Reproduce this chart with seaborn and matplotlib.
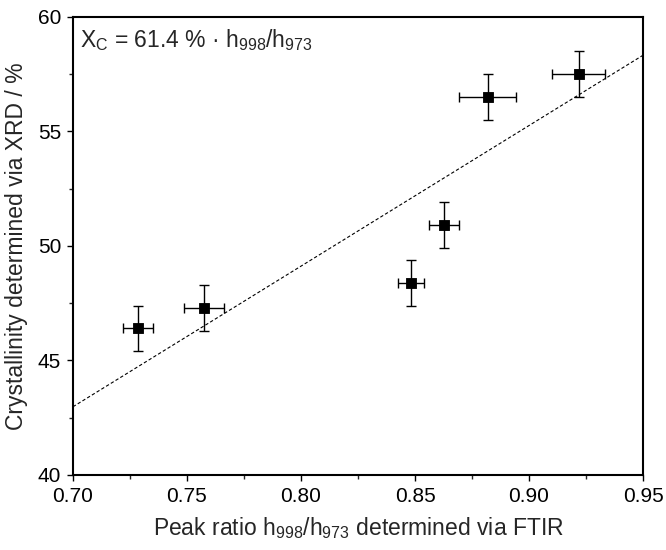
import matplotlib
matplotlib.use("Agg")
import matplotlib.pyplot as plt
import seaborn as sns
import numpy as np
import pandas as pd
from matplotlib.ticker import MultipleLocator

# Data
peak_ratio = [0.7285, 0.7575, 0.8482, 0.8626, 0.8819, 0.9218]
crystallinity = [46.4, 47.3, 48.4, 50.9, 56.5, 57.5]
ratio_err = [0.0067, 0.0086, 0.0057, 0.0065, 0.0126, 0.0117]
cryst_err = [1.0, 1.0, 1.0, 1.0, 1.0, 1.0]
fit_slope = 61.4
fit_x = [0.70, 0.95]

sns.set_theme(style="ticks")
plt.rcParams['font.family'] = ['Liberation Sans', 'DejaVu Sans']
plt.rcParams['mathtext.fontset'] = 'custom'
plt.rcParams['mathtext.rm'] = 'Liberation Sans'
plt.rcParams['mathtext.it'] = 'Liberation Sans:italic'

df = pd.DataFrame({"x": peak_ratio, "y": crystallinity})
fit_df = pd.DataFrame({"x": fit_x, "y": [fit_slope * v for v in fit_x]})

fig = plt.figure(figsize=(6.66, 5.5), dpi=100)
ax = fig.add_axes([0.1096, 0.1364, 0.8559, 0.8327])

sns.lineplot(data=fit_df, x="x", y="y", ax=ax, color="black",
             linewidth=0.8, linestyle=(0, (3, 2)), zorder=1)
ax.errorbar(peak_ratio, crystallinity, xerr=ratio_err, yerr=cryst_err,
            fmt="none", ecolor="black", elinewidth=1.0, capsize=3.5,
            capthick=1.0, zorder=2)
sns.scatterplot(data=df, x="x", y="y", ax=ax, marker="s", s=60,
                color="black", edgecolor="black", zorder=3)

ax.set_xlim(0.70, 0.95)
ax.set_ylim(40, 60)
ax.xaxis.set_major_locator(MultipleLocator(0.05))
ax.xaxis.set_minor_locator(MultipleLocator(0.025))
ax.yaxis.set_major_locator(MultipleLocator(5))
ax.yaxis.set_minor_locator(MultipleLocator(2.5))
ax.set_xticklabels([f"{v:.2f}" for v in ax.get_xticks()])
ax.tick_params(which="major", direction="out", length=4.5, width=1.0,
               labelsize=15, colors="black", top=False, right=False, pad=4)
ax.tick_params(which="minor", direction="out", length=3, width=1.0,
               top=False, right=False)
for sp in ax.spines.values():
    sp.set_visible(True)
    sp.set_linewidth(1.5)
    sp.set_color("black")

ax.set_xlabel(r"Peak ratio h$_{998}$/h$_{973}$ determined via FTIR",
              fontsize=16.5, labelpad=7)
ax.set_ylabel("Crystallinity determined via XRD / %", fontsize=16.5,
              labelpad=7)

ax.text(0.012, 0.978, r"X$_\mathrm{C}$ = 61.4 % · h$_{998}$/h$_{973}$",
        transform=ax.transAxes, ha="left", va="top", fontsize=16.5)

fig.savefig("out.png", dpi=100)
